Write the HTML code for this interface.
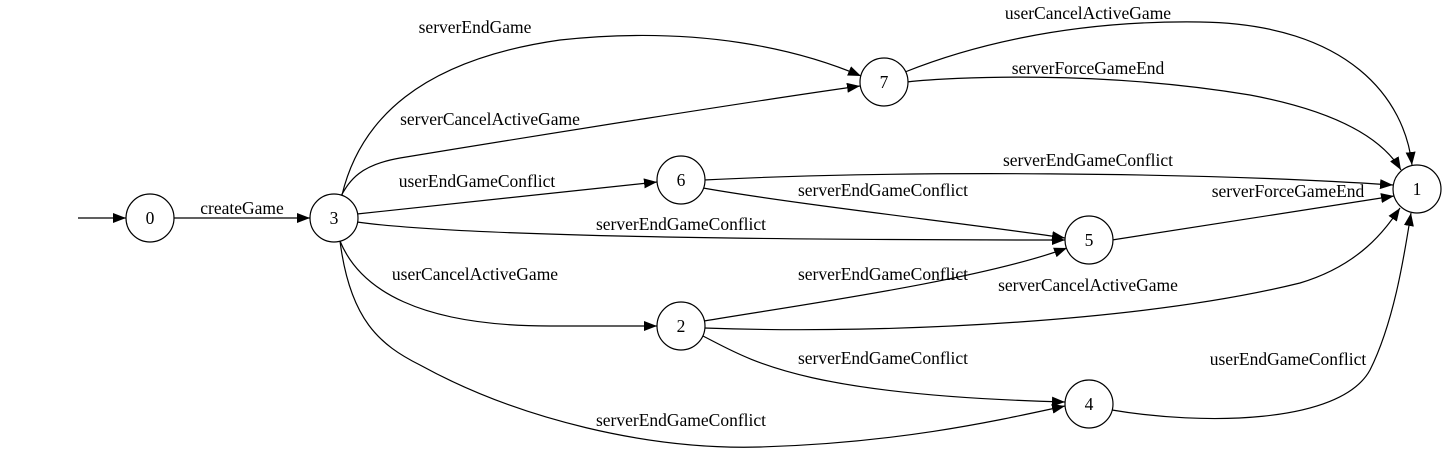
<!DOCTYPE html>
<html><head><meta charset="utf-8"><style>
html,body{margin:0;padding:0;background:#fff;}
svg{display:block;}
text{font-family:"Liberation Serif",serif;font-size:17.5px;fill:#000;}
</style></head><body>
<svg width="1447" height="454" viewBox="0 0 1447 454" xmlns="http://www.w3.org/2000/svg">
<defs><marker id="a" markerWidth="13" markerHeight="10" refX="13" refY="5" orient="auto" markerUnits="userSpaceOnUse"><path d="M0,0 L13,5 L0,10 z" fill="#000"/></marker></defs>
<g fill="none" stroke="#000" stroke-width="1.2" marker-end="url(#a)">
<path d="M78,218 L126,218"/>
<path d="M174,218 L310,218"/>
<path d="M342,195 C360,120 420,60 560,40 C700,25 800,50 861,76"/>
<path d="M341,196 C350,180 360,165 400,158 C540,135 760,100 860,86"/>
<path d="M357,214 L657,182"/>
<path d="M357,222 C450,235 700,240 1065,240"/>
<path d="M340,241 C360,290 420,326 550,326 L657,326"/>
<path d="M340,241 C350,320 380,345 420,365 C520,420 650,450 760,447 C900,443 1000,420 1065,406"/>
<path d="M905,72 C960,50 1060,20 1200,22 C1350,24 1405,100 1412,165"/>
<path d="M907,82 C950,77 1100,70 1250,95 C1330,110 1380,135 1401,170"/>
<path d="M704,180 C900,170 1200,172 1393,185"/>
<path d="M703,188 C800,205 980,225 1065,238"/>
<path d="M1112,240 L1394,196"/>
<path d="M704,321 C800,305 980,280 1067,248"/>
<path d="M704,328 C900,335 1150,320 1300,283 C1360,265 1385,230 1400,208"/>
<path d="M703,336 C750,360 800,395 1065,402"/>
<path d="M1112,410 C1200,425 1340,425 1370,370 C1395,320 1405,250 1411,213"/>
</g>
<g fill="#fff" stroke="#000" stroke-width="1.2">
<circle cx="150" cy="218" r="24"/><circle cx="334" cy="218" r="24"/>
<circle cx="884" cy="82" r="24"/><circle cx="681" cy="180" r="24"/>
<circle cx="1089" cy="240" r="24"/><circle cx="681" cy="326" r="24"/>
<circle cx="1089" cy="404" r="24"/><circle cx="1417" cy="189" r="24"/>
</g>
<g text-anchor="middle">
<text x="150" y="224">0</text><text x="334" y="224">3</text><text x="884" y="88">7</text>
<text x="681" y="186">6</text><text x="1089" y="246">5</text><text x="681" y="332">2</text>
<text x="1089" y="410">4</text><text x="1417" y="195">1</text>
<text x="242" y="214">createGame</text>
<text x="475" y="33">serverEndGame</text>
<text x="490" y="125">serverCancelActiveGame</text>
<text x="477" y="187">userEndGameConflict</text>
<text x="681" y="230">serverEndGameConflict</text>
<text x="475" y="280">userCancelActiveGame</text>
<text x="681" y="426">serverEndGameConflict</text>
<text x="1088" y="19">userCancelActiveGame</text>
<text x="1088" y="74">serverForceGameEnd</text>
<text x="1088" y="166">serverEndGameConflict</text>
<text x="883" y="196">serverEndGameConflict</text>
<text x="1288" y="197">serverForceGameEnd</text>
<text x="883" y="280">serverEndGameConflict</text>
<text x="1088" y="291">serverCancelActiveGame</text>
<text x="883" y="364">serverEndGameConflict</text>
<text x="1288" y="365">userEndGameConflict</text>
</g>
</svg>
</body></html>
